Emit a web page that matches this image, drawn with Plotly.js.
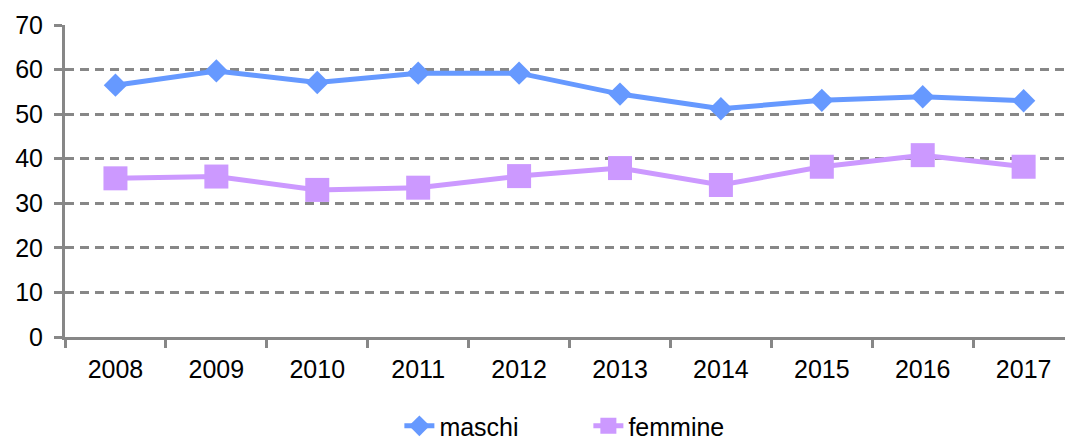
<!DOCTYPE html>
<html>
<head>
<meta charset="utf-8">
<script src="https://cdn.plot.ly/plotly-3.0.1.min.js"></script>
<style>html,body{margin:0;padding:0;background:#fff;}#chart{width:1065px;height:442px;}</style>
</head>
<body>
<div id="chart"></div>
<script>
const years = ["2008","2009","2010","2011","2012","2013","2014","2015","2016","2017"];
const maschi = [56.5, 59.7, 57.1, 59.2, 59.2, 54.5, 51.2, 53.1, 53.9, 53.0];
const femmine = [35.6, 36.0, 33.0, 33.5, 36.1, 37.9, 34.1, 38.2, 40.8, 38.2];
const yTicks = [0, 10, 20, 30, 40, 50, 60, 70];

const font = {family: "Liberation Sans, Arial, sans-serif", size: 25, color: "#000"};

const data = [
  {x: years, y: maschi, name: "maschi", type: "scatter", mode: "lines+markers",
   line: {color: "#6699FF", width: 5}, marker: {symbol: "diamond", size: 18, color: "#6699FF"}},
  {x: years, y: femmine, name: "femmine", type: "scatter", mode: "lines+markers",
   line: {color: "#CC99FF", width: 5}, marker: {symbol: "square", size: 24, color: "#CC99FF"}}
];

const layout = {
  width: 1065, height: 442,
  margin: {l: 65, r: 0, t: 25, b: 105, autoexpand: false},
  paper_bgcolor: "#fff", plot_bgcolor: "#fff",
  font: font,
  showlegend: true,
  legend: {orientation: "h", x: 0.375, xanchor: "left", xref: "container", yref: "container",
           y: 0.036, yanchor: "middle", font: font, entrywidth: 144, entrywidthmode: "pixels"},
  xaxis: {type: "category", range: [-0.5, 9.41], tickson: "boundaries", ticks: "outside", ticklen: 8,
          tickwidth: 3, tickcolor: "#878787", showline: true, linecolor: "#878787", linewidth: 3,
          showgrid: false, zeroline: false, tickfont: font, ticklabelstandoff: 8, automargin: false},
  yaxis: {range: [0, 70], tickvals: yTicks, ticks: "outside", ticklen: 8, tickwidth: 3, tickcolor: "#878787",
          showline: true, linecolor: "#878787", linewidth: 3, showgrid: true, gridcolor: "#878787",
          gridwidth: 3, griddash: "9px,6px", zeroline: false, tickfont: font, ticklabelstandoff: 6, automargin: false}
};

Plotly.newPlot("chart", data, layout, {displayModeBar: false, staticPlot: true});
</script>
</body>
</html>
